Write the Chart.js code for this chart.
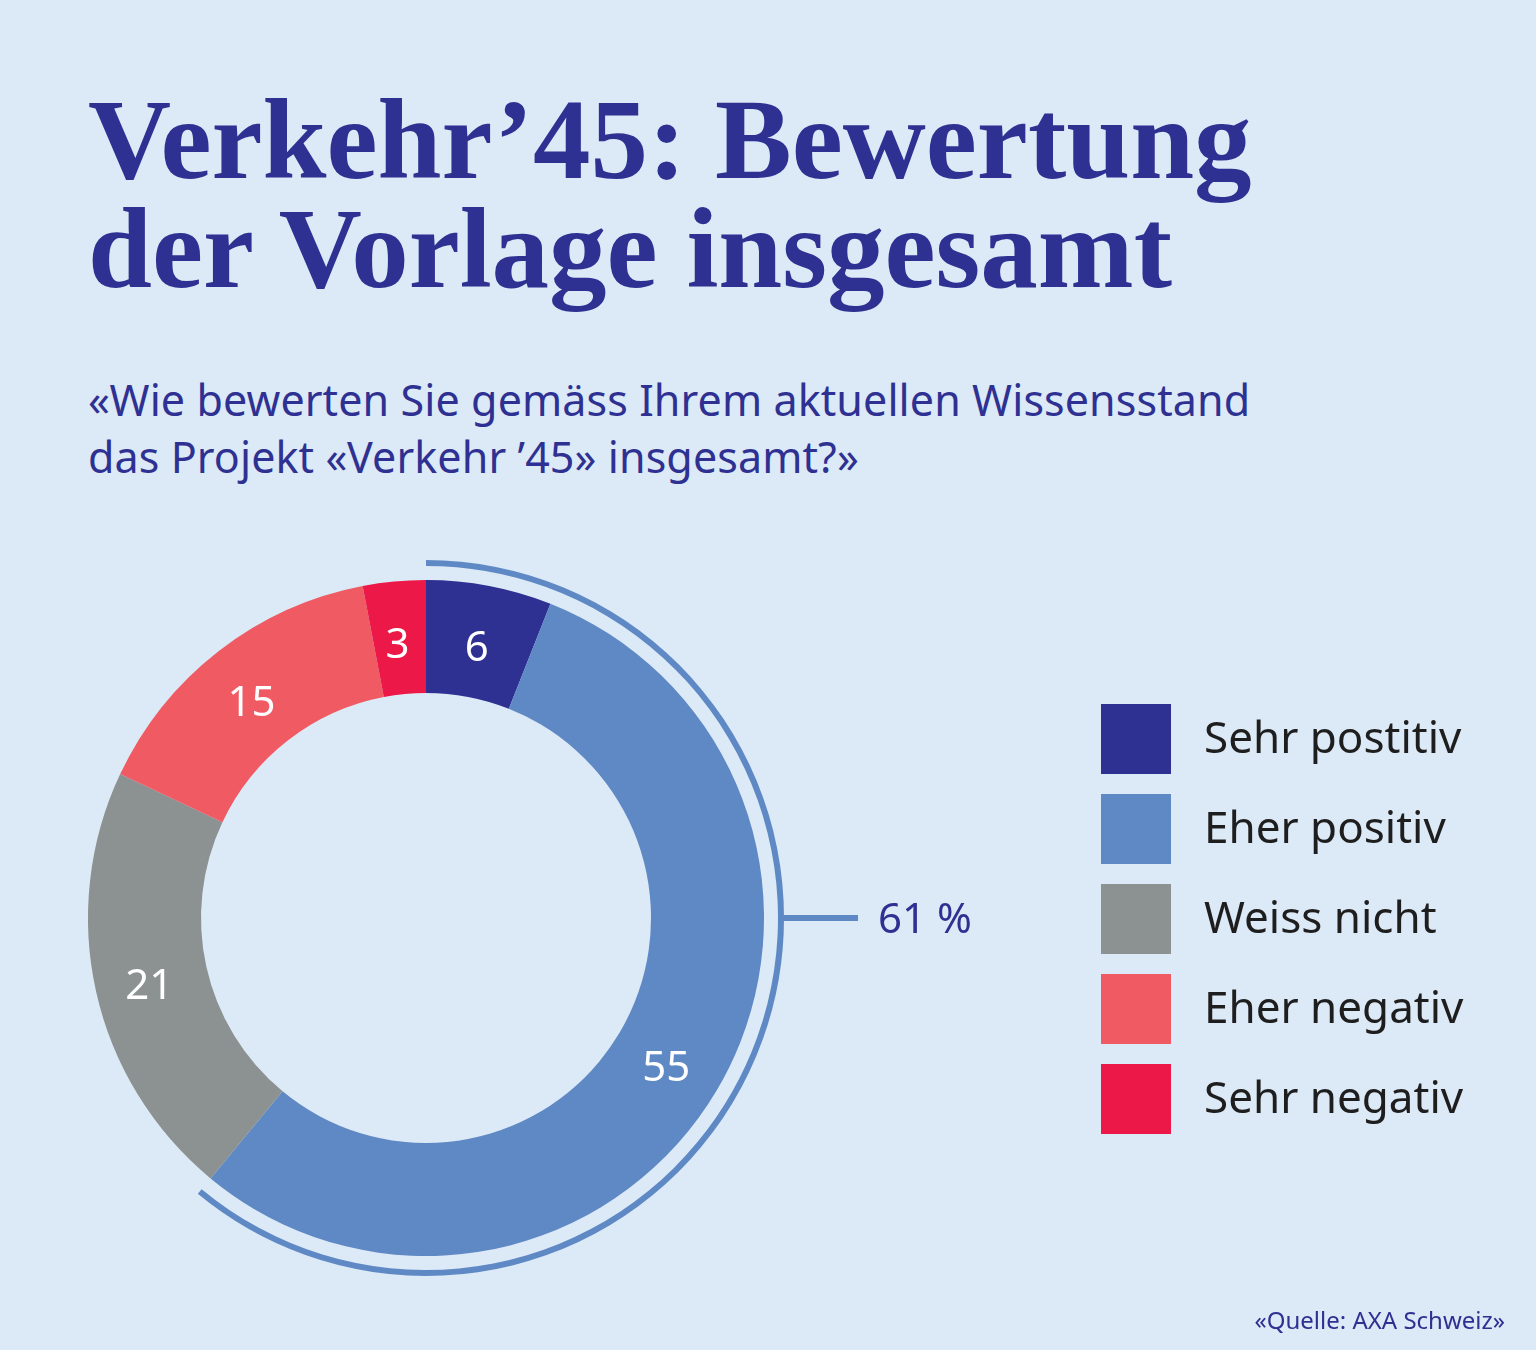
<!DOCTYPE html>
<html lang="de">
<head>
  <meta charset="UTF-8" />
  <title>Verkehr'45: Bewertung der Vorlage insgesamt</title>
  <script src="https://cdn.jsdelivr.net/npm/chart.js"></script>
  <style>
    * { box-sizing: border-box; margin: 0; padding: 0; }

    body {
      width: 1536px;
      height: 1350px;
      background-color: #dce9f6;
      position: relative;
      overflow: hidden;
      font-family: 'Noto Sans', sans-serif;
    }

    .title {
      position: absolute;
      left: 88px;
      top: 85px;
      font-family: 'Liberation Serif', serif;
      font-weight: bold;
      font-size: 115px;
      line-height: 109px;
      color: #2e3192;
      white-space: nowrap;
    }

    .subtitle {
      position: absolute;
      left: 88px;
      top: 371px;
      font-size: 43px;
      line-height: 57px;
      letter-spacing: 0.1px;
      color: #2e3192;
      white-space: nowrap;
    }

    #chartBox {
      position: absolute;
      left: 0;
      top: 0;
      width: 1536px;
      height: 1350px;
    }

    .legend {
      position: absolute;
      left: 1101px;
      top: 704px;
    }

    .legend-item {
      display: flex;
      align-items: center;
      height: 70px;
      margin-bottom: 20px;
    }

    .legend-box {
      width: 70px;
      height: 70px;
      margin-right: 33px;
    }

    .legend-text {
      font-size: 44px;
      line-height: 70px;
      color: #1e1e1e;
      position: relative;
      top: -3px;
      white-space: nowrap;
    }

    .source {
      position: absolute;
      right: 31px;
      top: 1303px;
      font-size: 24px;
      line-height: 34px;
      color: #2e3192;
    }
  </style>
</head>
<body>

<div class="title">Verkehr’45: Bewertung<br>der Vorlage insgesamt</div>
<div class="subtitle">«Wie bewerten Sie gemäss Ihrem aktuellen Wissensstand<br>das Projekt «Verkehr ’45» insgesamt?»</div>

<div id="chartBox"><canvas id="donut"></canvas></div>

<div class="legend" id="legend"></div>

<div class="source">«Quelle: AXA Schweiz»</div>

<script>
  // data
  const labels = ['Sehr postitiv', 'Eher positiv', 'Weiss nicht', 'Eher negativ', 'Sehr negativ'];
  const values = [6, 55, 21, 15, 3];
  const colors = ['#2e3192', '#5f89c5', '#8c9191', '#f05a63', '#ec1847'];
  const positiveShare = values[0] + values[1]; // 61
  const positiveLabel = positiveShare + ' %';

  // legend
  const legendEl = document.getElementById('legend');
  labels.forEach((lab, i) => {
    const item = document.createElement('div');
    item.className = 'legend-item';
    item.innerHTML = '<div class="legend-box" style="background:' + colors[i] + '"></div>' +
                     '<div class="legend-text">' + lab + '</div>';
    legendEl.appendChild(item);
  });

  // value labels in the ring + the 61 % bracket line
  const extras = {
    id: 'extras',
    afterDatasetsDraw(chart) {
      const ctx = chart.ctx;
      const meta = chart.getDatasetMeta(2);
      ctx.save();
      ctx.fillStyle = '#ffffff';
      ctx.font = '42px "Noto Sans"';
      ctx.textAlign = 'center';
      ctx.textBaseline = 'alphabetic';
      meta.data.forEach((arc, i) => {
        const p = arc.getCenterPoint();
        ctx.fillText(values[i], p.x - 2, p.y + 20);
      });

      const outer = chart.getDatasetMeta(0).data[0];
      const cx = outer.x, cy = outer.y, r = outer.outerRadius;
      ctx.strokeStyle = '#5f89c5';
      ctx.lineWidth = 6;
      ctx.beginPath();
      ctx.moveTo(cx + r - 1, cy);
      ctx.lineTo(cx + r + 74, cy);
      ctx.stroke();

      ctx.fillStyle = '#2e3192';
      ctx.textAlign = 'left';
      ctx.fillText(positiveLabel, cx + r + 94, cy + 15);
      ctx.restore();
    }
  };

  new Chart(document.getElementById('donut'), {
    type: 'doughnut',
    data: {
      labels: labels,
      datasets: [
        {
          // thin outer arc covering the positive answers
          data: [positiveShare, 100 - positiveShare],
          backgroundColor: ['#5f89c5', 'rgba(0,0,0,0)'],
          weight: 6
        },
        {
          // gap ring
          data: [100],
          backgroundColor: ['rgba(0,0,0,0)'],
          weight: 14
        },
        {
          data: values,
          backgroundColor: colors,
          weight: 113
        }
      ]
    },
    options: {
      responsive: true,
      maintainAspectRatio: false,
      animation: false,
      events: [],
      cutout: 225,
      layout: { padding: { left: 68, top: 560, right: 752, bottom: 74 } },
      elements: { arc: { borderWidth: 0, hoverBorderWidth: 0, hoverOffset: 0 } },
      plugins: {
        legend: { display: false },
        tooltip: { enabled: false }
      }
    },
    plugins: [extras]
  });
</script>

</body>
</html>
